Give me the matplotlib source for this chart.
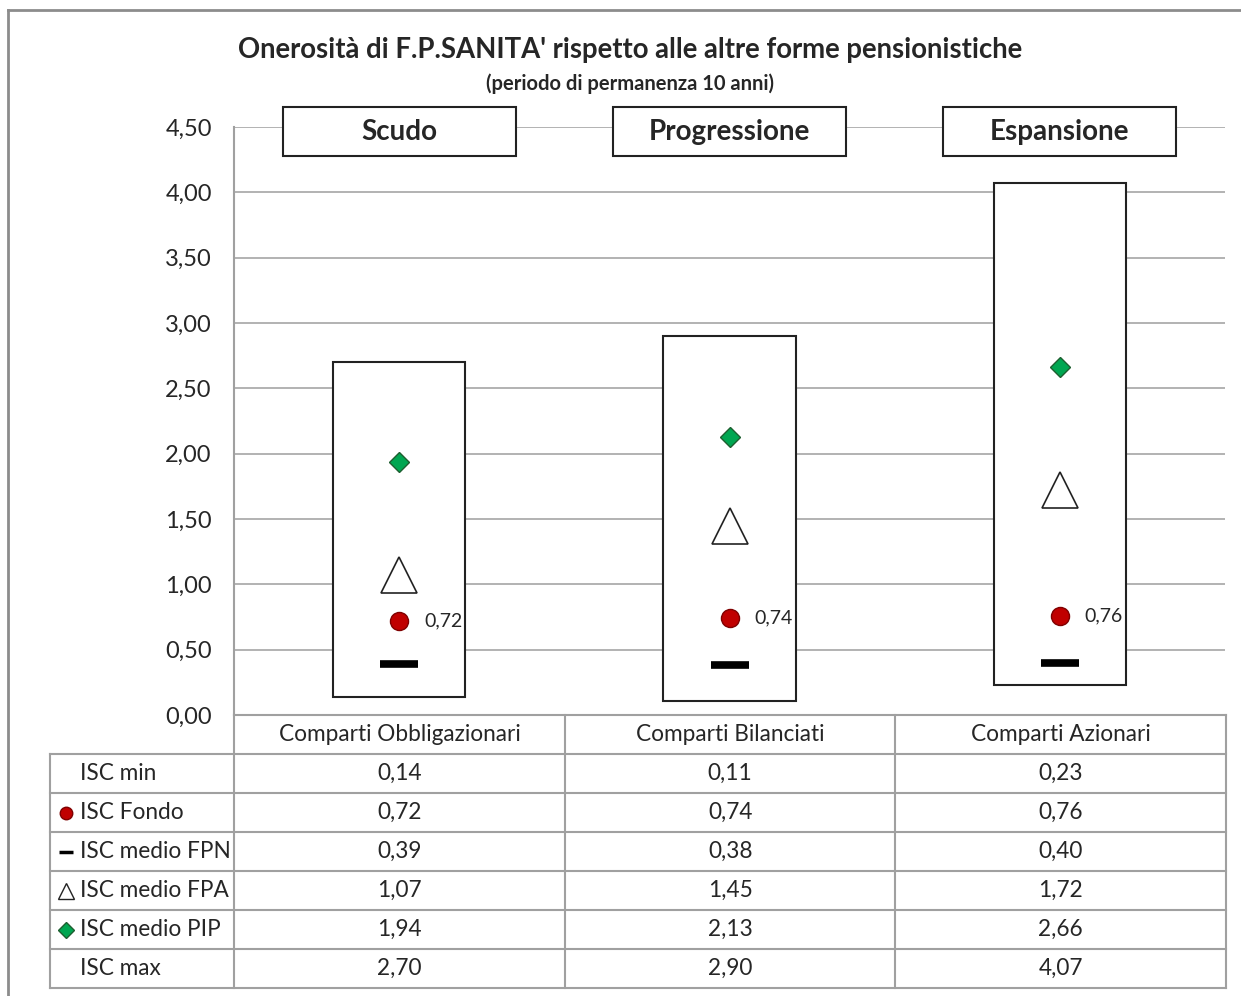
import numpy as np
import matplotlib
matplotlib.use('Agg')
import matplotlib.pyplot as plt
from matplotlib.patches import Rectangle
from matplotlib.lines import Line2D

plt.rcParams['font.family'] = ['Lato', 'DejaVu Sans']

# data
categories = ['Comparti Obbligazionari', 'Comparti Bilanciati', 'Comparti Azionari']
lines_names = ['Scudo', 'Progressione', 'Espansione']
isc_min = [0.14, 0.11, 0.23]
isc_fondo = [0.72, 0.74, 0.76]
isc_fpn = [0.39, 0.38, 0.40]
isc_fpa = [1.07, 1.45, 1.72]
isc_pip = [1.94, 2.13, 2.66]
isc_max = [2.70, 2.90, 4.07]
row_labels = ['ISC min', 'ISC Fondo', 'ISC medio FPN', 'ISC medio FPA', 'ISC medio PIP', 'ISC max']
yticks = np.arange(0, 4.51, 0.5)

W, H = 1241, 996
fig = plt.figure(figsize=(W / 100, H / 100), dpi=100)

def fx(px):
    return px / W

def fy(py):
    return 1 - py / H

grid_col = '#A6A6A6'
red = '#C00000'
green = '#00A651'
txt = '#262626'

# ---- main plot area ----
ax = fig.add_axes([fx(234), fy(715), fx(991), (715 - 127) / H])
x = np.arange(len(categories))
ax.set_xlim(-0.5, 2.5)
ax.set_ylim(0, 4.5)
ax.set_yticks(yticks)
ax.set_yticklabels([('%.2f' % v).replace('.', ',') for v in yticks], fontsize=17, color=txt)
ax.tick_params(axis='y', length=0, pad=16)
ax.set_xticks([])
for s in ['top', 'right', 'bottom', 'left']:
    ax.spines[s].set_visible(False)
ax.yaxis.grid(True, color=grid_col, lw=1.2)
ax.set_axisbelow(True)

# min-max boxes
heights = np.array(isc_max) - np.array(isc_min)
ax.bar(x, heights, bottom=isc_min, width=0.4, color='white', edgecolor='#222222', lw=1.5, zorder=2)

# markers
ax.plot(x, isc_fpn, ls='none', marker='_', ms=27, mew=5.5, color='black', zorder=3)
ax.plot(x, isc_fpa, ls='none', marker='^', ms=26, mfc='white', mec='#222222', mew=1.2, zorder=3)
ax.plot(x, isc_fondo, ls='none', marker='o', ms=13, mfc=red, mec='#7F0000', mew=1, zorder=3)
ax.plot(x, isc_pip, ls='none', marker='D', ms=10, mfc=green, mec='#1E5E30', mew=1, zorder=3)
for xi, v in zip(x, isc_fondo):
    ax.annotate(('%.2f' % v).replace('.', ','), (xi, v), xytext=(18, 0), textcoords='offset points',
                va='center', ha='left', fontsize=14, color=txt, zorder=4)

# fund line name boxes
for xi, name in zip(x, lines_names):
    ax.add_patch(Rectangle((xi - 0.353, 4.28), 0.706, 0.375, facecolor='white', edgecolor='#222222',
                           lw=1.5, clip_on=False, zorder=4))
    ax.text(xi, 4.465, name, ha='center', va='center', fontsize=20, fontweight='bold',
            color=txt, zorder=5)

# titles
fig.text(fx(630), fy(50), "Onerosità di F.P.SANITA' rispetto alle altre forme pensionistiche",
         ha='center', va='center', fontsize=19.8, fontweight='bold', color=txt)
fig.text(fx(630), fy(84), "(periodo di permanenza 10 anni)", ha='center', va='center',
         fontsize=14.5, fontweight='bold', color=txt)

# ---- data table ----
tax = fig.add_axes([fx(50), fy(988), fx(1176), (988 - 715) / H])
left = -0.5 - 184 / 330
tax.set_xlim(left, 2.5)
nrows = len(row_labels) + 1
tax.set_ylim(nrows, 0)
tax.axis('off')
tcol = '#A0A0A0'
lw = 1.5
# horizontal lines
tax.plot([-0.5, 2.5], [0, 0], color=tcol, lw=lw, clip_on=False)
for r in range(1, nrows + 1):
    tax.plot([left, 2.5], [r, r], color=tcol, lw=lw, clip_on=False)
# vertical lines
tax.plot([left, left], [1, nrows], color=tcol, lw=lw, clip_on=False)
for xv in [-0.5, 0.5, 1.5, 2.5]:
    tax.plot([xv, xv], [0, nrows], color=tcol, lw=lw, clip_on=False)
# continue axis line up the plot
ax.plot([-0.5, -0.5], [0, 4.5], color=tcol, lw=lw, clip_on=False, zorder=1)

for xi, c in zip(x, categories):
    tax.text(xi, 0.5, c, ha='center', va='center', fontsize=16.3, color=txt)

table_rows = [isc_min, isc_fondo, isc_fpn, isc_fpa, isc_pip, isc_max]
for r, (lab, vals) in enumerate(zip(row_labels, table_rows), start=1):
    tax.text(left + 30 / 330, r + 0.5, lab, ha='left', va='center', fontsize=16.3, color=txt)
    for xi, v in zip(x, vals):
        tax.text(xi, r + 0.5, ('%.2f' % v).replace('.', ','), ha='center', va='center',
                 fontsize=16.3, color=txt)

# legend keys in the table
kx = left + 16 / 330
tax.plot(kx, 2.5, marker='o', ms=9, mfc=red, mec='#7F0000', ls='none', clip_on=False)
tax.plot(kx, 3.5, marker='_', ms=10, mew=2.5, color='black', ls='none', clip_on=False)
tax.plot(kx, 4.5, marker='^', ms=11, mfc='white', mec='#222222', mew=1, ls='none', clip_on=False)
tax.plot(kx, 5.5, marker='D', ms=8, mfc=green, mec='#1E5E30', ls='none', clip_on=False)

# outer frame of the chart
fig.add_artist(Line2D([fx(8), fx(8)], [fy(10), 0], color='#8C8C8C', lw=2))
fig.add_artist(Line2D([fx(8), 1], [fy(10), fy(10)], color='#8C8C8C', lw=2))

fig.savefig('out.png', dpi=100)
